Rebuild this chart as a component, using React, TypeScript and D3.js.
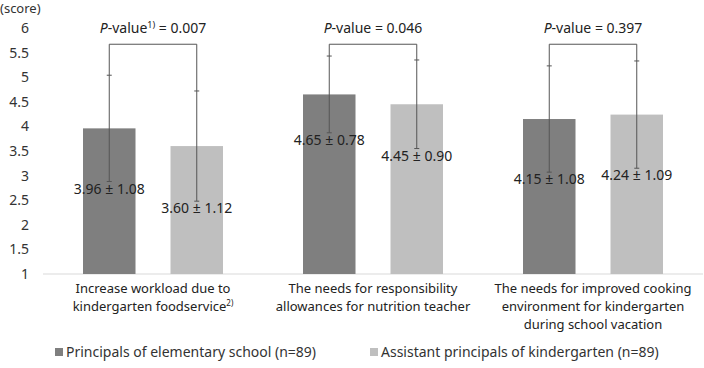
import React from "react";
import * as d3 from "d3";

const categories = [
  ["Increase workload due to", "kindergarten foodservice"],
  ["The needs for responsibility", "allowances for nutrition teacher"],
  ["The needs for improved cooking", "environment for kindergarten", "during school vacation"],
];
const catNotes = ["2)", "", ""];
const seriesNames = [
  "Principals of elementary school (n=89)",
  "Assistant principals of kindergarten (n=89)",
];
const seriesColors = ["#7f7f7f", "#bfbfbf"];
const means = [
  [3.96, 4.65, 4.15],
  [3.6, 4.45, 4.24],
];
const sds = [
  [1.08, 0.78, 1.08],
  [1.12, 0.9, 1.09],
];
const pValues = ["0.007", "0.046", "0.397"];
const pNotes = ["1)", "", ""];
const yTicks = [1, 1.5, 2, 2.5, 3, 3.5, 4, 4.5, 5, 5.5, 6];

const W = 704;
const H = 368;
const FONT = "'Noto Sans', sans-serif";

export default function App() {
  const x = d3.scaleBand<number>().domain([0, 1, 2]).range([43, 703]);
  const inner = d3.scaleBand<number>().domain([0, 1]).range([40, 180]).paddingInner(0.4);
  const y = d3.scaleLinear().domain([1, 6]).range([274, 28]);
  const bracketY = y(5.67);

  return (
    <svg width={W} height={H} style={{ position: "absolute", left: 0, top: 0, fontFamily: FONT }}>
      <rect width={W} height={H} fill="#fff" />
      <text x={0} y={13} fontSize={13} fill="#333">(score)</text>
      {yTicks.map((t) => (
        <text key={t} x={29} y={y(t)} dy="0.35em" textAnchor="end" fontSize={14} fill="#333">
          {t}
        </text>
      ))}
      <line x1={43} x2={703} y1={y(1)} y2={y(1)} stroke="#d9d9d9" />
      {categories.map((lines, ci) => {
        const g0 = x(ci)!;
        const cx = g0 + x.bandwidth() / 2;
        const centers = [0, 1].map((si) => g0 + inner(si)! + inner.bandwidth() / 2);
        return (
          <g key={ci}>
            {[0, 1].map((si) => {
              const m = means[si][ci];
              const s = sds[si][ci];
              const bx = g0 + inner(si)!;
              const ex = centers[si];
              return (
                <g key={si}>
                  <rect x={bx} y={y(m)} width={inner.bandwidth()} height={y(1) - y(m)} fill={seriesColors[si]} />
                  <line x1={ex} x2={ex} y1={y(m + s)} y2={y(m - s)} stroke="#555" />
                  <line x1={ex - 2.5} x2={ex + 2.5} y1={y(m + s)} y2={y(m + s)} stroke="#555" />
                  <line x1={ex - 2.5} x2={ex + 2.5} y1={y(m - s)} y2={y(m - s)} stroke="#555" />
                  <text x={ex} y={y(m - s) + 12} textAnchor="middle" fontSize={14} fill="#222">
                    {`${m.toFixed(2)} ± ${s.toFixed(2)}`}
                  </text>
                </g>
              );
            })}
            <path
              d={`M${centers[0]},${y(means[0][ci] + sds[0][ci])}V${bracketY}H${centers[1]}V${y(means[1][ci] + sds[1][ci])}`}
              fill="none"
              stroke="#555"
            />
            <text x={(centers[0] + centers[1]) / 2} y={33} textAnchor="middle" fontSize={14} fill="#222">
              <tspan fontStyle="italic">P</tspan>
              <tspan>-value</tspan>
              {pNotes[ci] && (
                <tspan fontSize={9} dy={-5}>{pNotes[ci]}</tspan>
              )}
              <tspan dy={pNotes[ci] ? 5 : 0}>{` = ${pValues[ci]}`}</tspan>
            </text>
            <text textAnchor="middle" fontSize={13} fill="#222">
              {lines.map((l, li) => (
                <tspan key={li} x={cx} y={293 + li * 18}>
                  {l}
                  {li === lines.length - 1 && catNotes[ci] && (
                    <tspan fontSize={8} dy={-5}>{catNotes[ci]}</tspan>
                  )}
                </tspan>
              ))}
            </text>
          </g>
        );
      })}
      {seriesNames.map((n, si) => {
        const lx = [55, 370][si];
        return (
          <g key={si}>
            <rect x={lx} y={348} width={8} height={8} fill={seriesColors[si]} />
            <text x={lx + 11} y={357} fontSize={14} fill="#333">{n}</text>
          </g>
        );
      })}
    </svg>
  );
}
